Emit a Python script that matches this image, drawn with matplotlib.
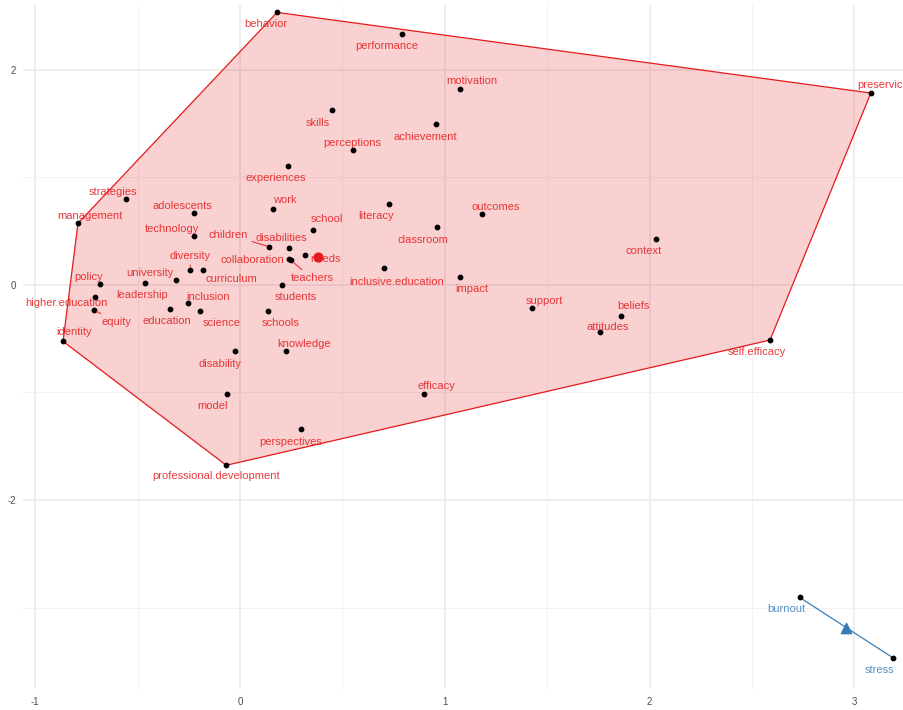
import numpy as np
import matplotlib
matplotlib.use("Agg")
from matplotlib import pyplot as plt

plt.rcParams['font.family'] = ['Liberation Sans', 'DejaVu Sans']
plt.rcParams['axes.unicode_minus'] = False

# cluster 1 words and their coordinates (Dim 1, Dim 2)
words1 = ['behavior', 'performance', 'motivation', 'preservice', 'skills', 'achievement',
          'perceptions', 'experiences', 'strategies', 'adolescents', 'work', 'literacy',
          'outcomes', 'management', 'technology', 'school', 'classroom', 'context',
          'children', 'disabilities', 'needs', 'collaboration', 'teachers',
          'inclusive.education', 'diversity', 'curriculum', 'university', 'leadership',
          'policy', 'impact', 'students', 'higher.education', 'inclusion', 'education',
          'science', 'schools', 'equity', 'support', 'beliefs', 'attitudes',
          'self.efficacy', 'identity', 'knowledge', 'disability', 'model', 'efficacy',
          'perspectives', 'professional.development']
x1 = [0.181, 0.790, 1.074, 3.080, 0.451, 0.957, 0.550, 0.236, -0.557, -0.225, 0.160, 0.729,
      1.183, -0.791, -0.225, 0.358, 0.963, 2.030, 0.143, 0.237, 0.316, 0.239, 0.249,
      0.703, -0.243, -0.179, -0.3125, -0.464, -0.685, 1.074, 0.207, -0.707, -0.254, -0.340,
      -0.195, 0.137, -0.713, 1.424, 1.860, 1.756, 2.588, -0.864, 0.225, -0.026, -0.062, 0.900,
      0.299, -0.067]
y1 = [2.531, 2.327, 1.816, 1.782, 1.626, 1.493, 1.249, 1.106, 0.794, 0.671, 0.704, 0.750,
      0.662, 0.571, 0.450, 0.507, 0.539, 0.428, 0.354, 0.338, 0.276, 0.238, 0.227,
      0.152, 0.139, 0.139, 0.041, 0.019, 0.009, 0.072, -0.006, -0.114, -0.170, -0.226,
      -0.247, -0.247, -0.235, -0.214, -0.294, -0.437, -0.514, -0.526, -0.613, -0.613, -1.013, -1.013,
      -1.344, -1.678]

# cluster 2
words2 = ['burnout', 'stress']
x2 = [2.732, 3.187]
y2 = [-2.905, -3.466]

# label offsets in pixels (right, up) -- layout only
offsets = {
    'behavior': (-11, -12), 'performance': (-15, -12), 'motivation': (12, 8),
    'preservice': (12, 8), 'skills': (-15, -13), 'achievement': (-11, -13),
    'perceptions': (0, 7), 'experiences': (-13, -12), 'strategies': (-13, 7),
    'adolescents': (-12, 7), 'work': (12, 9), 'literacy': (-13, -12),
    'outcomes': (13, 7), 'management': (12, 7), 'technology': (-22, 7),
    'school': (14, 11), 'classroom': (-14, -13), 'context': (-12, -12),
    'children': (-41, 12), 'disabilities': (-7, 10), 'needs': (21, -4),
    'collaboration': (-37, -1), 'teachers': (21, -18), 'inclusive.education': (13, -14),
    'diversity': (0, 14), 'curriculum': (28, -9), 'university': (-26, 7),
    'leadership': (-3, -12), 'policy': (-11, 7), 'impact': (12, -12),
    'students': (13, -12), 'higher.education': (-29, -6), 'inclusion': (20, 6),
    'education': (-3, -12), 'science': (22, -12), 'schools': (13, -12),
    'equity': (23, -12), 'support': (13, 7), 'beliefs': (13, 10),
    'attitudes': (8, 5), 'self.efficacy': (-13, -12), 'identity': (11, 9),
    'knowledge': (18, 7), 'disability': (-15, -13), 'model': (-15, -12),
    'efficacy': (12, 8), 'perspectives': (-11, -13), 'professional.development': (-10, -11),
    'burnout': (-13, -12), 'stress': (-13, -12),
}
with_segment = ['children', 'teachers', 'diversity', 'equity']

red = '#E41A1C'
blue = '#377EB8'


def convex_hull(pts):
    pts = sorted(set(pts))
    def cross(o, a, b):
        return (a[0] - o[0]) * (b[1] - o[1]) - (a[1] - o[1]) * (b[0] - o[0])
    lower, upper = [], []
    for p in pts:
        while len(lower) >= 2 and cross(lower[-2], lower[-1], p) <= 0:
            lower.pop()
        lower.append(p)
    for p in reversed(pts):
        while len(upper) >= 2 and cross(upper[-2], upper[-1], p) <= 0:
            upper.pop()
        upper.append(p)
    return lower[:-1] + upper[:-1]


fig = plt.figure(figsize=(9.04, 7.10), dpi=100)
ax = fig.add_axes([22.7 / 904, 21 / 710, 1 - 22.7 / 904, 1 - 26 / 710])
ax.set_xlim(-1.061, 3.242)
ax.set_ylim(-3.757, 2.60)

# grid
ax.set_xticks([-1, 0, 1, 2, 3])
ax.set_yticks([-2, 0, 2])
ax.set_xticks([-0.5, 0.5, 1.5, 2.5], minor=True)
ax.set_yticks([-3, -1, 1], minor=True)
ax.grid(True, which='major', color='#EBEBEB', lw=1.2)
ax.grid(True, which='minor', color='#F2F2F2', lw=0.7)
ax.set_axisbelow(True)
for s in ax.spines.values():
    s.set_visible(False)
ax.tick_params(which='both', length=0, labelsize=7, labelcolor='#4D4D4D')
ax.tick_params(axis='x', pad=6)
ax.tick_params(axis='y', pad=5)

# cluster 1 hull
hull = convex_hull(list(zip(x1, y1)))
hx = [p[0] for p in hull] + [hull[0][0]]
hy = [p[1] for p in hull] + [hull[0][1]]
ax.fill(hx, hy, color=red, alpha=0.2, lw=0)
ax.plot(hx, hy, color=red, lw=0.9)

# cluster 2 "hull" (segment)
ax.plot(x2, y2, color=blue, lw=0.9)

# points
ax.scatter(x1 + x2, y1 + y2, s=10, color='black', zorder=4)

# centroids
ax.scatter([np.mean(x1)], [np.mean(y1)], s=40, color=red, marker='o', zorder=5)
ax.scatter([np.mean(x2)], [np.mean(y2)], s=55, color=blue, marker='^', zorder=5)

# labels
for words, xs, ys, col in [(words1, x1, y1, red), (words2, x2, y2, blue)]:
    for w, xv, yv in zip(words, xs, ys):
        dx, dy = offsets[w]
        kw = {}
        if w in with_segment:
            kw['arrowprops'] = dict(arrowstyle='-', color=col, lw=0.8, alpha=0.85,
                                    shrinkA=1, shrinkB=2)
        ax.annotate(w, (xv, yv), xytext=(dx, dy), textcoords='offset pixels',
                    ha='center', va='center', fontsize=8, color=col, alpha=0.85,
                    zorder=6, **kw)

fig.savefig('out.png', dpi=100)
